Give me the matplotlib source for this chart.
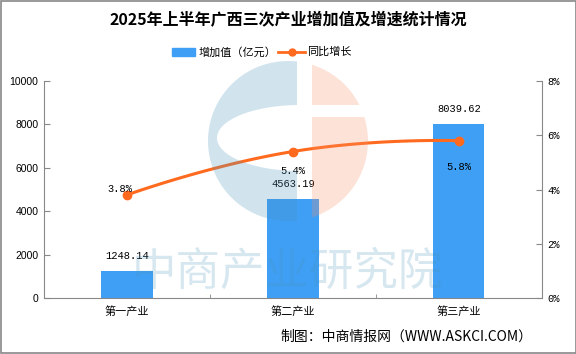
import numpy as np
import matplotlib
matplotlib.use("Agg")
import matplotlib.pyplot as plt
from matplotlib.patches import Polygon, Rectangle, Circle

plt.rcParams['font.family'] = ['Noto Sans CJK SC', 'DejaVu Sans']

categories = ['第一产业', '第二产业', '第三产业']
values = [1248.14, 4563.19, 8039.62]
growth = [3.8, 5.4, 5.8]
value_labels = ['1248.14', '4563.19', '8039.62']
growth_labels = ['3.8%', '5.4%', '5.8%']
left_ticks = [0, 2000, 4000, 6000, 8000, 10000]
right_ticks = [0, 2, 4, 6, 8]

BAR = '#3f9ff5'
LINE = '#ff6a1f'
GRAY = '#888888'
PX = 72/100  # points per pixel

fig = plt.figure(figsize=(5.76, 3.54), dpi=100)
ax = fig.add_axes([44/576, 1-298/354, (541.7-44)/576, (298-81)/354])
ax2 = ax.twinx()

x = np.arange(len(categories))
ax.bar(x, values, width=0.31, color=BAR, zorder=2)
ax.set_xlim(-0.5, 2.5)
ax.set_ylim(0, 10000)
ax.set_yticks(left_ticks)
ax.set_yticklabels([str(t) for t in left_ticks], family='Liberation Sans', fontsize=7.5)
ax.set_xticks(x)
ax.set_xticklabels(categories, fontsize=8)
ax.set_xticks([0.5, 1.5], minor=True)
ax.tick_params(axis='x', which='major', length=0, pad=6)
ax.tick_params(axis='x', which='minor', direction='in', length=3, color=GRAY)
ax.tick_params(axis='y', direction='in', length=4, color=GRAY, pad=4)
for s in ['top', 'right']:
    ax.spines[s].set_visible(False)
for s in ['left', 'bottom']:
    ax.spines[s].set_color(GRAY)

for xi, v, lab in zip(x, values, value_labels):
    ax.annotate(lab, (xi, v), xytext=(0, 14.5*PX), textcoords='offset points',
                ha='center', va='center', fontsize=7.5, family='Liberation Mono', zorder=5)

# smooth line through growth points (bezier between data points)
P = np.column_stack([x, growth]).astype(float)
k = 0.25
curve = []
t = np.linspace(0, 1, 40)
for i in range(len(P)-1):
    p0, p3 = P[i], P[i+1]
    c1 = p0 + (k*(P[i+1]-P[i-1]) if i > 0 else 0)
    c2 = p3 - (k*(P[i+2]-P[i]) if i+2 < len(P) else 0)
    seg = ((1-t)**3)[:, None]*p0 + (3*(1-t)**2*t)[:, None]*c1 + (3*(1-t)*t**2)[:, None]*c2 + (t**3)[:, None]*p3
    curve.append(seg)
curve = np.vstack(curve)
ax2.plot(curve[:, 0], curve[:, 1], color=LINE, lw=2.2, zorder=3, solid_capstyle='round')
ax2.plot(x, growth, 'o', color=LINE, ms=6, zorder=4)
ax2.set_ylim(0, 8)
ax2.set_yticks(right_ticks)
ax2.set_yticklabels([f'{t}%' for t in right_ticks], family='Liberation Mono', fontsize=7.5)
ax2.tick_params(axis='y', direction='in', length=4, color=GRAY, pad=4)
for s in ['top', 'left', 'bottom']:
    ax2.spines[s].set_visible(False)
ax2.spines['right'].set_color(GRAY)

offs = [(-7, 6), (0, -19.5), (0, -26)]
for xi, g, lab, (dx, dy) in zip(x, growth, growth_labels, offs):
    ax2.annotate(lab, (xi, g), xytext=(dx*PX, dy*PX), textcoords='offset points',
                 ha='center', va='center', fontsize=7.5, family='Liberation Mono', zorder=5)

# title & legend
fig.text(0.5, 1-20/354, '2025年上半年广西三次产业增加值及增速统计情况', ha='center', va='center',
         fontsize=11.5, fontweight='bold')
lax = fig.add_axes([0, 0, 1, 1], zorder=10)
lax.set_xlim(0, 576); lax.set_ylim(354, 0); lax.axis('off')
lax.add_patch(Rectangle((172, 48), 23, 8, color=BAR))
lax.text(199, 52, '增加值（亿元）', va='center', ha='left', fontsize=8)
lax.plot([278, 305], [52, 52], color=LINE, lw=2)
lax.plot([291.5], [52], 'o', color=LINE, ms=5)
lax.text(307, 52, '同比增长', va='center', ha='left', fontsize=8)
lax.text(406, 337, '制图：中商情报网（WWW.ASKCI.COM）', ha='center', va='center', fontsize=10)

# watermark
cx, cy, r = 288, 141, 80
ex, ey, ea, eb = 300, 138, 83, 33
xb = 297
top_ang = np.arccos((xb-cx)/r)
ang = np.linspace(top_ang, 2*np.pi-top_ang, 120)
outer = np.column_stack([cx + r*np.cos(ang), cy - r*np.sin(ang)])
e_ang0 = np.arccos((xb-ex)/ea)
eang = np.linspace(2*np.pi-e_ang0, e_ang0, 120)
inner = np.column_stack([ex + ea*np.cos(eang), ey - eb*np.sin(eang)])
blue_poly = np.vstack([outer, inner])
WB = (75/255, 147/255, 187/255)
WP = (249/255, 143/255, 99/255)
lax.add_patch(Polygon(blue_poly, closed=True, facecolor=WB, edgecolor='none', alpha=0.25))
for (y0, y1) in [(0, 105), (117, 354)]:
    c = Circle((cx, cy), r, facecolor=WP, edgecolor='none', alpha=0.25)
    lax.add_patch(c)
    rect = Rectangle((312, y0), 200, y1-y0, transform=lax.transData)
    c.set_clip_path(rect)
lax.text(288, 272, '中商产业研究院', ha='center', va='center', fontsize=32,
         color=WB, alpha=0.22, fontweight='medium')

# figure border
lax.add_patch(Rectangle((0.5, 0.5), 575, 352.5, fill=False, edgecolor=GRAY, lw=1.2))

fig.savefig('out.png', dpi=100)
